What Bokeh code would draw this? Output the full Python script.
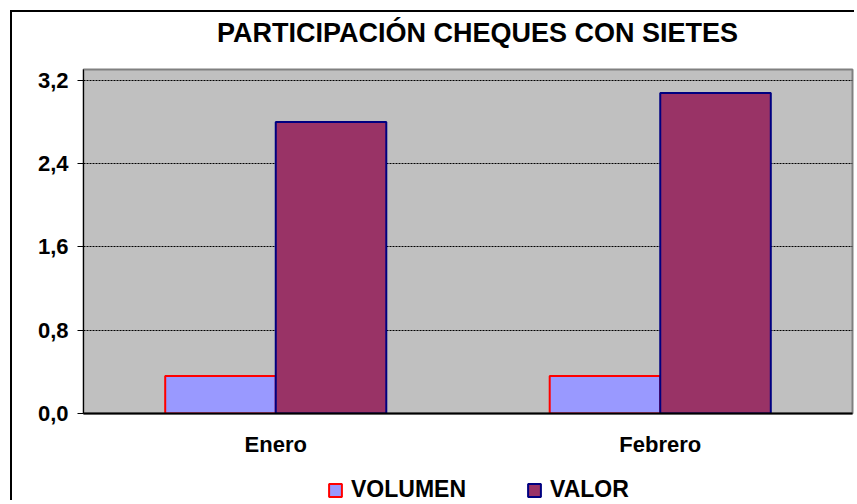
import numpy as np
from bokeh.plotting import figure
from bokeh.layouts import column
from bokeh.models import (FactorRange, Range1d, FixedTicker, CustomJSTickFormatter,
                          Label, Legend, LegendItem, ColumnDataSource)
from bokeh.transform import dodge
from bokeh.embed import file_html
from bokeh.resources import INLINE

# ---- data ----
categories = ["Enero", "Febrero"]
series_names = ["VOLUMEN", "VALOR"]
volumen = [0.36, 0.36]
valor = [2.80, 3.08]
y_ticks = [0.0, 0.8, 1.6, 2.4, 3.2]
title_text = "PARTICIPACIÓN CHEQUES CON SIETES"

FONT = "Liberation Sans"
W = 844
VOL_FILL, VOL_LINE = "#9999FF", "#FF0000"
VAL_FILL, VAL_LINE = "#993366", "#000080"


def blank_fig(h):
    f = figure(width=W, height=h, output_backend="svg", toolbar_location=None,
               x_range=Range1d(0, 1), y_range=Range1d(0, 1),
               x_axis_location=None, y_axis_location=None,
               min_border=0, min_border_left=0, min_border_right=0,
               min_border_top=0, min_border_bottom=0)
    f.grid.visible = False
    f.outline_line_color = None
    f.background_fill_color = "white"
    f.border_fill_color = "white"
    return f


# ---- title ----
TH = 53
tf = blank_fig(TH)
tf.add_layout(Label(x=394, y=TH - 20, x_units="screen", y_units="screen",
                    text=title_text, text_font=FONT, text_font_style="bold",
                    text_font_size="27px", text_align="center",
                    text_baseline="middle", text_color="black"))

# ---- main chart ----
src = ColumnDataSource(dict(cat=categories, volumen=volumen, valor=valor))
PH = 394
p = figure(x_range=FactorRange(factors=categories, range_padding=0),
           y_range=Range1d(0, 3.305),
           width=W, height=PH, output_backend="svg", toolbar_location=None,
           min_border_left=71, min_border_top=4, min_border_right=4,
           min_border_bottom=46)
p.title = None
p.background_fill_color = "#C0C0C0"
p.border_fill_color = "white"
p.outline_line_color = "#808080"
p.outline_line_width = 2

bw = 0.2875
p.vbar(x=dodge("cat", -bw / 2, range=p.x_range), top="volumen", width=bw,
       source=src, fill_color=VOL_FILL, line_color=VOL_LINE, line_width=2)
p.vbar(x=dodge("cat", bw / 2, range=p.x_range), top="valor", width=bw,
       source=src, fill_color=VAL_FILL, line_color=VAL_LINE, line_width=2)

p.xgrid.grid_line_color = None
p.ygrid.ticker = FixedTicker(ticks=y_ticks)
p.ygrid.grid_line_color = "black"
p.ygrid.grid_line_dash = "2 1"
p.ygrid.grid_line_width = 1

p.yaxis.ticker = FixedTicker(ticks=y_ticks)
p.yaxis.formatter = CustomJSTickFormatter(code="return tick.toFixed(1).replace('.', ',');")
p.yaxis.major_label_text_font = FONT
p.yaxis.major_label_text_font_style = "bold"
p.yaxis.major_label_text_font_size = "22px"
p.yaxis.major_label_text_color = "black"
p.yaxis.major_tick_out = 6
p.yaxis.major_tick_in = 0
p.yaxis.minor_tick_out = 0
p.yaxis.minor_tick_in = 0
p.yaxis.major_label_standoff = 9
p.yaxis.axis_line_color = "black"
p.yaxis.major_tick_line_color = "black"

p.xaxis.major_label_text_font = FONT
p.xaxis.major_label_text_font_style = "bold"
p.xaxis.major_label_text_font_size = "22px"
p.xaxis.major_label_text_color = "black"
p.xaxis.major_tick_out = 0
p.xaxis.major_tick_in = 0
p.xaxis.major_label_standoff = 18
p.xaxis.axis_line_color = "black"
p.xaxis.axis_line_width = 2

# ---- legend (separate strip; keys are styled like the bars) ----
LH = 43
lf = blank_fig(LH)
key_src = ColumnDataSource(dict(x=np.array([0.5]), top=np.array([np.nan])))
g1 = lf.vbar(x="x", top="top", width=0.1, source=key_src,
             fill_color=VOL_FILL, line_color=VOL_LINE, line_width=2)
g2 = lf.vbar(x="x", top="top", width=0.1, source=key_src,
             fill_color=VAL_FILL, line_color=VAL_LINE, line_width=2)
legend = Legend(items=[LegendItem(label=series_names[0], renderers=[g1]),
                       LegendItem(label=series_names[1], renderers=[g2])],
                location=(244, -1), orientation="horizontal",
                glyph_width=16, glyph_height=16, label_standoff=8, spacing=60,
                label_height=16, padding=0, margin=0,
                border_line_color=None, background_fill_alpha=0,
                label_text_font=FONT, label_text_font_style="bold",
                label_text_font_size="23px", label_text_color="black")
lf.add_layout(legend, "center")

layout = column(tf, p, lf, spacing=0,
                styles={"margin-left": "12px", "margin-top": "12px",
                        "box-shadow": "-2px -2px 0px 0px black"})

open("out.html", "w").write(file_html(layout, INLINE))
